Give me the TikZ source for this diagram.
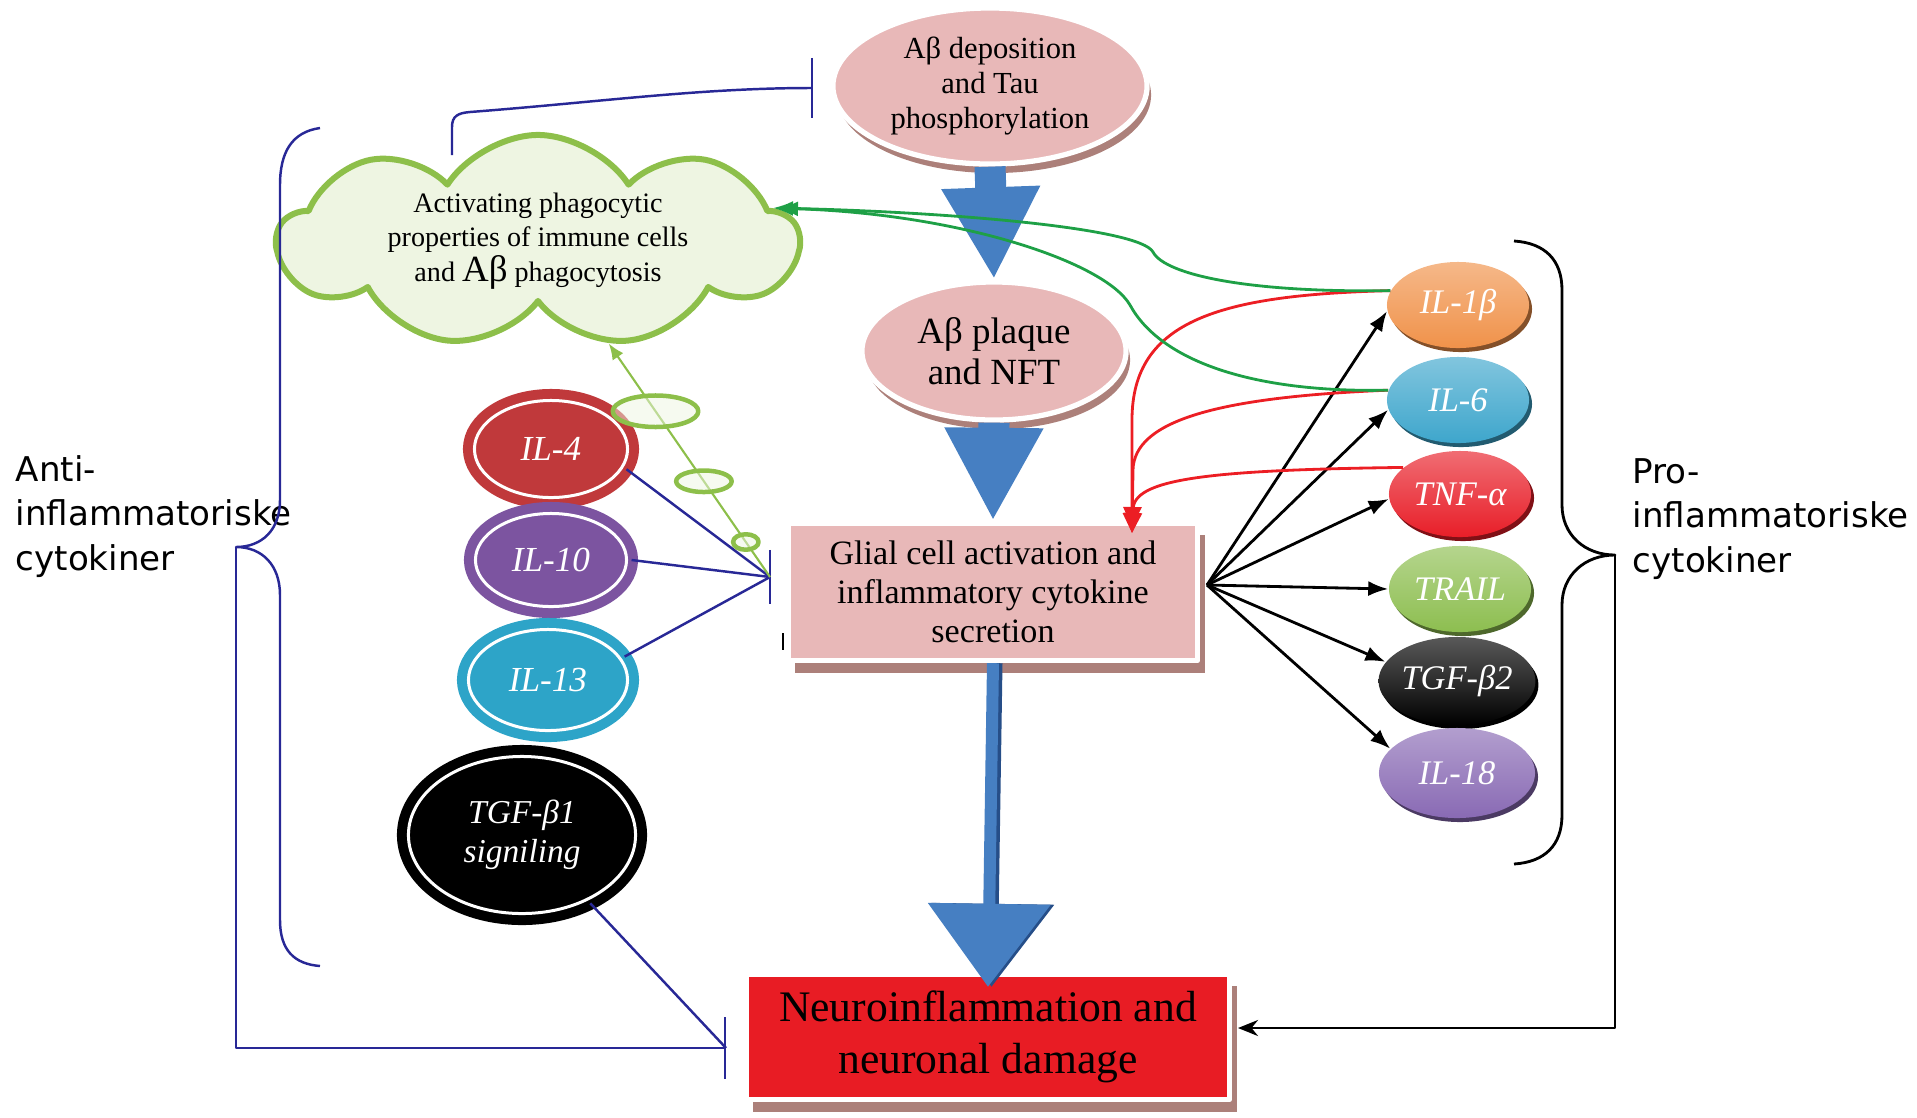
\documentclass[tikz,border=0pt]{standalone}
\usepackage{fontspec}
\setmainfont{Liberation Serif}
\newfontfamily\comic{DejaVu Sans}
\usetikzlibrary{arrows.meta,shapes.geometric,shapes.symbols,shadows}
\definecolor{pinkfill}{RGB}{232,184,184}
\definecolor{shbrown}{RGB}{172,128,122}
\definecolor{neured}{RGB}{232,28,36}
\definecolor{fatblue}{RGB}{70,127,194}
\definecolor{fatdark}{RGB}{38,78,136}
\definecolor{inhnavy}{RGB}{40,40,150}
\definecolor{cloudfill}{RGB}{238,245,226}
\definecolor{cloudline}{RGB}{141,191,74}
\definecolor{actgreen}{RGB}{30,160,70}
\definecolor{actred}{RGB}{236,30,36}
\definecolor{il4col}{RGB}{192,57,59}
\definecolor{il10col}{RGB}{124,84,160}
\definecolor{il13col}{RGB}{45,164,200}
\definecolor{il1bcol}{RGB}{240,146,74}
\definecolor{il6col}{RGB}{62,166,204}
\definecolor{tnfcol}{RGB}{232,30,40}
\definecolor{trailcol}{RGB}{141,190,80}
\definecolor{il18col}{RGB}{137,106,180}
\begin{document}
\begin{tikzpicture}[x=0.01cm, y=-0.01cm, line join=round,
    pinkell/.style={ellipse, fill=pinkfill, draw=white, line width=1.5pt, inner sep=0pt, align=center,
      drop shadow={shadow xshift=0.04cm, shadow yshift=-0.09cm, fill=shbrown, opacity=1}},
    pinkbox/.style={rectangle, fill=#1, draw=white, line width=1.5pt, inner sep=0pt, align=center,
      drop shadow={shadow xshift=0.07cm, shadow yshift=-0.12cm, fill=shbrown, opacity=1}},
    cloudy/.style={cloud, cloud puffs=9, cloud puff arc=115, cloud ignores aspect, minimum width=5.2cm,
      minimum height=2.12cm, fill=cloudfill, draw=cloudline, line width=0.06cm, inner sep=0pt, align=center,
      font=\fontsize{8}{9.8}\selectfont},
    antiell/.style={ellipse, fill=#1, draw=#1, line width=0.1cm, double=white, double distance=0.03cm,
      inner sep=0pt, align=center, text=white, font=\itshape\fontsize{10}{11}\selectfont},
    proell/.style={ellipse, top color=#1!65!white, bottom color=#1, inner sep=0pt, text=white,
      font=\itshape\fontsize{9.8}{11}\selectfont, minimum width=1.42cm, minimum height=0.86cm,
      drop shadow={shadow xshift=0.03cm, shadow yshift=-0.04cm, fill=#1!55!black, opacity=1}},
    blob/.style={ellipse, draw=cloudline, line width=0.045cm, fill=cloudfill, fill opacity=0.5, inner sep=0pt},
    brlbl/.style={anchor=north west, align=left, inner sep=0pt, font=\comic\fontsize{9.7}{12.6}\selectfont},
    fatarr/.style={draw=fatblue, line width=#1},
    inhline/.style={draw=inhnavy, line width=0.7pt},
    blkarr/.style={draw=black, line width=0.8pt, -{Latex[length=0.2cm,width=0.15cm]}},
    redarr/.style={draw=actred, line width=0.8pt, -{Triangle[length=0.2cm,width=0.18cm]}},
    grnarr/.style={draw=actgreen, line width=0.8pt, -{Latex[length=0.2cm,width=0.15cm]}}]
\useasboundingbox (0,0) rectangle (1917,1117);

% centre chain
\node[pinkell, minimum width=3.14cm, minimum height=1.56cm, font=\fontsize{8.7}{10}\selectfont] (dep) at (990,86) {Aβ deposition\\and Tau\\phosphorylation};
\node[pinkell, minimum width=2.64cm, minimum height=1.38cm, font=\fontsize{10.5}{11.5}\selectfont] (plaque) at (994,351) {Aβ plaque\\and NFT};
\node[pinkbox=pinkfill, minimum width=4.09cm, minimum height=1.37cm, font=\fontsize{9.7}{11.1}\selectfont] (glial) at (993,592) {Glial cell activation and\\inflammatory cytokine\\secretion};
\node[pinkbox=neured, minimum width=4.83cm, minimum height=1.25cm, font=\fontsize{12.4}{14.6}\selectfont] (neuro) at (988,1037) {Neuroinflammation and\\neuronal damage};
\node[cloudy] (cloud) at (538,241) {Activating phagocytic\\properties of immune cells\\and {\fontsize{10.5}{9.8}\selectfont Aβ} phagocytosis};

% anti-inflammatory
\node[antiell=il4col, minimum width=1.53cm, minimum height=0.97cm] (il4) at (551,449) {IL-4};
\node[antiell=il10col, minimum width=1.51cm, minimum height=0.93cm] (il10) at (551,560) {IL-10};
\node[antiell=il13col, minimum width=1.59cm, minimum height=1.01cm] (il13) at (548,680) {IL-13};
\node[antiell=black, minimum width=2.27cm, minimum height=1.57cm, font=\itshape\fontsize{9.5}{11}\selectfont] (tgfb1) at (522,835) {TGF-β1\\signiling};

% pro-inflammatory
\node[proell=il1bcol] (il1b) at (1458,305) {IL-1β};
\node[proell=il6col] (il6) at (1458,400) {IL-6};
\node[proell=tnfcol] (tnfa) at (1460,494) {TNF-α};
\node[proell=trailcol] (trail) at (1460,589) {TRAIL};
\node[proell=black, minimum width=1.56cm, minimum height=0.88cm] (tgfb2) at (1457,681) {TGF-β2};
\node[proell=il18col, minimum width=1.56cm, minimum height=0.9cm] (il18) at (1457,773) {IL-18};

\node[brlbl] (antilbl) at (15,455) {Anti-\\inflammatoriske\\cytokiner};
\node[brlbl] (prolbl) at (1632,458) {Pro-\\inflammatoriske\\cytokiner};

\coordinate (glinh) at (770,577);
\coordinate (glout) at (1207,585);
\coordinate (redtip) at (1132,533);
\coordinate (cloudgr) at (773,208);
\coordinate (cloudtop) at (452,155);
\coordinate (depinh) at (813,88);
\coordinate (tgfend) at (726,1048);
\coordinate (neurorin) at (1238,1028);

% fat arrows
\draw[fatarr=0.31cm, -{Triangle[length=0.92cm,width=0.92cm]}] (dep.south) -- (plaque.north);
\draw[fatarr=0.31cm, -{Triangle[length=0.93cm,width=0.92cm]}] (plaque.south) -- (glial.north);
\draw[fatarr=0.12cm, draw=fatdark, -{Triangle[length=0.83cm,width=1.2cm]}, transform canvas={xshift=0.035cm}] (glial.south) -- ([yshift=-0.15cm]neuro.north);
\draw[fatarr=0.12cm, -{Triangle[length=0.83cm,width=1.2cm]}] (glial.south) -- ([yshift=-0.15cm]neuro.north);

% braces
\draw[inhnavy, line width=0.7pt] (320,128) .. controls (292,132) and (280,152) .. (280,185) -- (280,500)
  .. controls (280,530) and (262,547) .. (236,547) coordinate (antitip)
  .. controls (262,547) and (280,565) .. (280,595) -- (280,920) .. controls (280,950) and (294,964) .. (320,966);
\draw[black, line width=0.8pt] (1514,241) .. controls (1545,243) and (1562,260) .. (1562,290) -- (1562,505)
  .. controls (1562,535) and (1585,555) .. (1615,555) coordinate (protip)
  .. controls (1585,555) and (1562,575) .. (1562,605) -- (1562,815) .. controls (1562,845) and (1545,862) .. (1514,864);

% inhibition
\draw[inhline] (il4.-15) -- (glinh);
\draw[inhline] (il10.east) -- (glinh);
\draw[inhline] (il13.17) -- (glinh);
\draw[inhline] ([yshift=0.27cm]glinh) -- ([yshift=-0.27cm]glinh);
\draw[inhline] (tgfb1.-45) -- (tgfend);
\draw[inhline, -{Bar[width=0.62cm]}] (antitip) |- (tgfend);
\draw[inhline, -{Bar[width=0.6cm]}] (cloudtop) -- (452,127) .. controls (452,116) and (458,113) .. (470,112)
  .. controls (600,102) and (700,88) .. (depinh);
\draw[black, line width=0.8pt] (783,633) -- (783,650);

% phagocytosis link
\draw[draw=cloudline, line width=0.6pt, -{Latex[length=0.16cm,width=0.13cm]}] (glinh) --
  node[pos=.15, blob, minimum width=0.255cm, minimum height=0.155cm] (blobc) {}
  node[pos=.41, blob, minimum width=0.555cm, minimum height=0.215cm] (blobb) {}
  node[pos=.71, blob, minimum width=0.855cm, minimum height=0.315cm] (bloba) {} (cloud);

% cytokine output
\foreach \tgt in {il1b.185,il6.188,tnfa.184,trail.west,tgfb2.165,il18.160}
  \draw[blkarr] (glout) -- (\tgt);
\draw[redarr] (il1b.168) .. controls (1220,295) and (1132,320) .. (1132,420) -- (redtip);
\draw[redarr, shorten >=0.06cm] (il6.172) .. controls (1220,397) and (1134,420) .. (1133,470) -- (redtip);
\draw[redarr] (tnfa.155) .. controls (1200,470) and (1133,480) .. (1133,510) -- (redtip);
\draw[grnarr] (il1b.168) .. controls (1250,293) and (1165,275) .. (1153,252) .. controls (1140,228) and (950,212) .. (cloudgr);
\draw[grnarr, shorten >=0.05cm] (il6.172) .. controls (1250,393) and (1160,360) .. (1130,305) .. controls (1105,262) and (960,214) .. (cloudgr);
\draw[black, line width=0.8pt, -{Stealth[length=0.2cm,width=0.16cm]}] (protip) |- (neurorin);
\end{tikzpicture}
\end{document}
